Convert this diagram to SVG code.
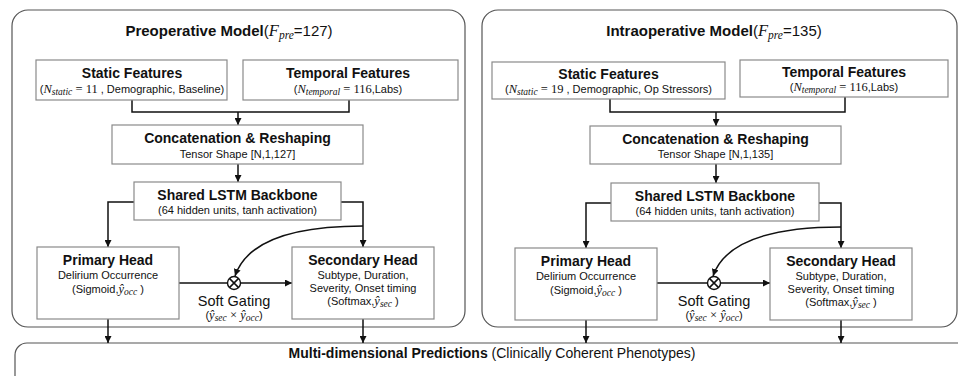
<svg xmlns="http://www.w3.org/2000/svg" width="958" height="376" viewBox="0 0 958 376">
<defs>
<marker id="ah" viewBox="0 0 10 10" refX="10" refY="5" markerWidth="7" markerHeight="7" markerUnits="userSpaceOnUse" orient="auto">
<path d="M0,0 L10,5 L0,10 z" fill="#111"/>
</marker>
<style>
text{font-family:"Liberation Sans",Arial,sans-serif;fill:#111;text-anchor:middle}
.t{font-size:15px;font-weight:bold}
.h{font-size:14px;font-weight:bold}
.s{font-size:11px}
.g{font-size:14.5px}
.m{font-family:"Liberation Serif","DejaVu Serif",serif;font-style:italic;font-size:12.5px}
.mt{font-family:"Liberation Serif","DejaVu Serif",serif;font-style:italic;font-size:16.5px}
.mr{font-family:"Liberation Serif","DejaVu Serif",serif;font-size:12.5px}
.sb{font-family:"Liberation Serif","DejaVu Serif",serif;font-style:italic;font-size:9.5px}
.sbt{font-family:"Liberation Serif","DejaVu Serif",serif;font-style:italic;font-size:11.5px}
.panel{fill:#fff;stroke:#555;stroke-width:1.2}
.box{fill:#fff;stroke:#8a8a8a;stroke-width:1.2}
.c{fill:none;stroke:#111;stroke-width:1.5}
.ca{fill:none;stroke:#111;stroke-width:1.5;marker-end:url(#ah)}
.gate{fill:#fff;stroke:#111;stroke-width:1.4}
</style>
</defs>
<rect width="958" height="376" fill="#fff"/>

<g id="preop-panel">
<rect class="panel" x="12" y="10" width="453" height="317" rx="16"/>
<text x="229" y="36"><tspan class="t">Preoperative Model</tspan><tspan font-size="15">(</tspan><tspan class="mt">F</tspan><tspan class="sbt" dy="3">pre</tspan><tspan font-size="15" dy="-3">=127)</tspan></text>
</g>
<g id="intraop-panel">
<rect class="panel" x="482" y="10" width="475" height="317" rx="16"/>
<text x="714" y="36"><tspan class="t">Intraoperative Model</tspan><tspan font-size="15">(</tspan><tspan class="mt">F</tspan><tspan class="sbt" dy="3">pre</tspan><tspan font-size="15" dy="-3">=135)</tspan></text>
</g>
<g id="predictions">
<rect class="panel" x="15" y="343" width="970" height="60" rx="12"/>
<text x="492" y="358" font-size="14"><tspan font-weight="bold">Multi-dimensional Predictions</tspan> (Clinically Coherent Phenotypes)</text>
</g>

<g id="connectors">
<path class="c" d="M132,100 V112 H349 V100"/>
<path class="ca" d="M238,112 V125"/>
<path class="ca" d="M238,164 V182"/>
<path class="ca" d="M134,202 H108 V247"/>
<path class="ca" d="M341,202 H363 V247"/>
<path class="ca" d="M363,226 Q252,226 235,276"/>
<path class="c" d="M179,283 H227.5"/>
<path class="ca" d="M240.5,283 H292"/>
<path class="ca" d="M108,319 V343"/>
<path class="ca" d="M363,319 V343"/>

<path class="c" d="M610,99 V112 H845 V97"/>
<path class="ca" d="M716,112 V126"/>
<path class="ca" d="M716,164 V183"/>
<path class="ca" d="M611,203 H586 V248"/>
<path class="ca" d="M819,203 H841 V248"/>
<path class="ca" d="M841,227 Q730,227 713,276"/>
<path class="c" d="M657,283 H707.5"/>
<path class="ca" d="M720.5,283 H770"/>
<path class="ca" d="M586,320 V343"/>
<path class="ca" d="M841,320 V343"/>
</g>

<g id="pre-static">
<rect class="box" x="36" y="60" width="191" height="40"/>
<text class="h" x="132" y="78">Static Features</text>
<text class="s" x="132" y="93">(<tspan class="m">N</tspan><tspan class="sb" dy="2">static</tspan><tspan class="mr" dy="-2"> = 11</tspan> , Demographic, Baseline)</text>
</g>
<g id="pre-temporal">
<rect class="box" x="243" y="60" width="215" height="40"/>
<text class="h" x="348" y="78">Temporal Features</text>
<text class="s" x="348" y="93">(<tspan class="m">N</tspan><tspan class="sb" dy="2">temporal</tspan><tspan class="mr" dy="-2"> = 116</tspan>,Labs)</text>
</g>
<g id="pre-concat">
<rect class="box" x="112" y="125" width="251" height="39"/>
<text class="h" x="237.5" y="143">Concatenation &amp; Reshaping</text>
<text class="s" x="237.5" y="158">Tensor Shape [N,1,127]</text>
</g>
<g id="pre-lstm">
<rect class="box" x="134" y="182" width="207" height="38"/>
<text class="h" x="237.5" y="200">Shared LSTM Backbone</text>
<text class="s" x="237.5" y="214">(64 hidden units, tanh activation)</text>
</g>
<g id="pre-primary">
<rect class="box" x="37" y="247" width="142" height="72"/>
<text class="h" x="108" y="265">Primary Head</text>
<text class="s" x="108" y="279">Delirium Occurrence</text>
<text class="s" x="108" y="293">(Sigmoid,<tspan class="m">ŷ</tspan><tspan class="sb" dy="2">occ</tspan><tspan dy="-2"> )</tspan></text>
</g>
<g id="pre-secondary">
<rect class="box" x="292" y="247" width="142" height="72"/>
<text class="h" x="363" y="265">Secondary Head</text>
<text class="s" x="363" y="279">Subtype, Duration,</text>
<text class="s" x="363" y="292">Severity, Onset  timing</text>
<text class="s" x="363" y="305">(Softmax,<tspan class="m">ŷ</tspan><tspan class="sb" dy="2">sec</tspan><tspan dy="-2"> )</tspan></text>
</g>
<g id="pre-gate">
<circle class="gate" cx="234" cy="283" r="6.5"/>
<path class="c" d="M229.4,278.4 L238.6,287.6 M238.6,278.4 L229.4,287.6" stroke-width="1.2"/>
<text class="g" x="234" y="306">Soft Gating</text>
<text class="s" x="234" y="319">(<tspan class="m">ŷ</tspan><tspan class="sb" dy="2">sec</tspan><tspan class="mr" dy="-2"> × </tspan><tspan class="m">ŷ</tspan><tspan class="sb" dy="2">occ</tspan><tspan dy="-2">)</tspan></text>
</g>

<g id="intra-static">
<rect class="box" x="492" y="62" width="233" height="37"/>
<text class="h" x="608.5" y="79">Static Features</text>
<text class="s" x="608.5" y="93">(<tspan class="m">N</tspan><tspan class="sb" dy="2">static</tspan><tspan class="mr" dy="-2"> = 19</tspan> , Demographic, Op Stressors)</text>
</g>
<g id="intra-temporal">
<rect class="box" x="740" y="60" width="208" height="37"/>
<text class="h" x="844" y="77">Temporal Features</text>
<text class="s" x="844" y="91">(<tspan class="m">N</tspan><tspan class="sb" dy="2">temporal</tspan><tspan class="mr" dy="-2"> = 116</tspan>,Labs)</text>
</g>
<g id="intra-concat">
<rect class="box" x="590" y="126" width="251" height="38"/>
<text class="h" x="715.5" y="144">Concatenation &amp; Reshaping</text>
<text class="s" x="715.5" y="158">Tensor Shape [N,1,135]</text>
</g>
<g id="intra-lstm">
<rect class="box" x="611" y="183" width="208" height="38"/>
<text class="h" x="715" y="201">Shared LSTM Backbone</text>
<text class="s" x="715" y="215">(64 hidden units, tanh activation)</text>
</g>
<g id="intra-primary">
<rect class="box" x="515" y="248" width="142" height="72"/>
<text class="h" x="586" y="266">Primary Head</text>
<text class="s" x="586" y="280">Delirium Occurrence</text>
<text class="s" x="586" y="294">(Sigmoid,<tspan class="m">ŷ</tspan><tspan class="sb" dy="2">occ</tspan><tspan dy="-2"> )</tspan></text>
</g>
<g id="intra-secondary">
<rect class="box" x="770" y="248" width="142" height="72"/>
<text class="h" x="841" y="266">Secondary Head</text>
<text class="s" x="841" y="280">Subtype, Duration,</text>
<text class="s" x="841" y="293">Severity, Onset  timing</text>
<text class="s" x="841" y="306">(Softmax,<tspan class="m">ŷ</tspan><tspan class="sb" dy="2">sec</tspan><tspan dy="-2"> )</tspan></text>
</g>
<g id="intra-gate">
<circle class="gate" cx="714" cy="283" r="6.5"/>
<path class="c" d="M709.4,278.4 L718.6,287.6 M718.6,278.4 L709.4,287.6" stroke-width="1.2"/>
<text class="g" x="714" y="306">Soft Gating</text>
<text class="s" x="714" y="319">(<tspan class="m">ŷ</tspan><tspan class="sb" dy="2">sec</tspan><tspan class="mr" dy="-2"> × </tspan><tspan class="m">ŷ</tspan><tspan class="sb" dy="2">occ</tspan><tspan dy="-2">)</tspan></text>
</g>
</svg>
